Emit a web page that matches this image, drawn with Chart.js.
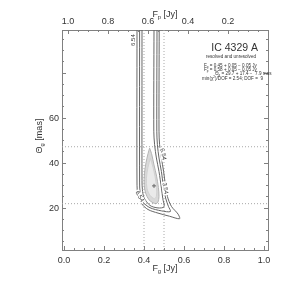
<!DOCTYPE html>
<html>
<head>
<meta charset="utf-8">
<script src="https://cdn.jsdelivr.net/npm/chart.js@4"></script>
<style>
  html, body { margin: 0; padding: 0; background: #fff; }
  #wrap { position: relative; width: 299px; height: 294px; }
  .ylab { position: absolute; font: 9px 'Liberation Sans', Arial, sans-serif; line-height: 10px; color: #333; text-align: right; width: 20px; }
</style>
</head>
<body>
<div id="wrap"><canvas id="c" width="299" height="294"></canvas></div>
<script>
const FG_TICKS = [0, 0.2, 0.4, 0.6, 0.8, 1.0];
const FP_TICKS = [1.0, 0.8, 0.6, 0.4, 0.2];
const THETA_TICKS = [20, 40, 60];

const FG_BEST = 0.45;
const FG_ERR = [0.05, 0.05];
const FP_BEST = 0.58;
const FP_ERR = [0.05, 0.05];
const TH_BEST = 29.7;
const TH_ERR = [17.4, 7.9];
const CHI2_DOF = 2.54;
const DOF = 9;

// contour traces (F_g [Jy], Theta_g [mas])
const C1_FG = [0.390, 0.390, 0.392, 0.400, 0.430, 0.470, 0.500, 0.494, 0.487, 0.475, 0.462, 0.453, 0.449, 0.450];
const C1_TH = [99, 32, 28, 24.5, 21.0, 19.9, 20.4, 24.0, 28.7, 36.1, 42.1, 48.0, 54.0, 99];
const C2_FG = [0.378, 0.378, 0.381, 0.395, 0.430, 0.487, 0.532, 0.522, 0.508, 0.497, 0.487, 0.475, 0.467, 0.464, 0.465];
const C2_TH = [99, 31, 26.5, 22.5, 20.0, 18.6, 18.3, 20.6, 24.3, 29.5, 36.1, 42.1, 48.0, 54.0, 99];
const C3_FG = [0.365, 0.365, 0.370, 0.388, 0.420, 0.470, 0.528, 0.578, 0.570, 0.537, 0.517, 0.507, 0.498, 0.487, 0.478, 0.475, 0.476];
const C3_TH = [99, 30, 25.5, 21.8, 19.2, 17.6, 16.2, 15.1, 17.2, 20.6, 25.0, 30.2, 36.1, 42.1, 48.0, 54.0, 99];
const BLOB_FG = [0.428, 0.438, 0.450, 0.463, 0.472, 0.475, 0.470, 0.460, 0.445, 0.425, 0.408, 0.401, 0.402, 0.410, 0.420, 0.428];
const BLOB_TH = [46.5, 44.0, 39.0, 34.0, 29.0, 25.0, 22.5, 21.8, 22.2, 23.5, 26.5, 30.0, 35.0, 40.0, 44.0, 46.5];
const CORE_FG = [0.432, 0.445, 0.455, 0.463, 0.462, 0.452, 0.430, 0.415, 0.412, 0.420, 0.432];
const CORE_TH = [42.0, 38.0, 34.0, 29.0, 25.0, 24.0, 25.5, 28.5, 33.0, 38.0, 42.0];

const CONTOUR_LABELS = [
  { t: '6.54', x: 0.345, y: 94.5, rot: -90 },
  { t: '6.54', x: 0.496, y: 43.8, rot: 78 },
  { t: '3.54', x: 0.506, y: 28.6, rot: 80 },
  { t: '6.54', x: 0.378, y: 25.0, rot: 60 },
];

const X_MIN = -0.01, X_MAX = 1.02;
const Y_MIN = 1.2, Y_MAX = 99;
const FONT = "'Liberation Sans', Arial, sans-serif";
const TEXT = '#333';
const AXIS = '#808080';
const LINE = '#666';
const DOT = '#a8a8a8';

function pts(xs, ys) {
  return xs.map((x, i) => ({ x, y: ys[i] }));
}

function contour(xs, ys) {
  return { data: pts(xs, ys), showLine: true, borderColor: LINE, borderWidth: 1, pointRadius: 0, tension: 0.3, fill: false, order: 1 };
}

function dotted(data) {
  return { data, showLine: true, borderColor: DOT, borderWidth: 1, borderDash: [1, 2], pointRadius: 0, fill: false, order: 3 };
}

const datasets = [
  { data: [{ x: FG_BEST, y: TH_BEST }], pointStyle: 'cross', pointRadius: 2, borderColor: '#666', borderWidth: 1, showLine: false, order: 0 },
  contour(C1_FG, C1_TH),
  contour(C2_FG, C2_TH),
  contour(C3_FG, C3_TH),
  dotted([{ x: FG_BEST - FG_ERR[1], y: Y_MIN }, { x: FG_BEST - FG_ERR[1], y: Y_MAX }]),
  dotted([{ x: FG_BEST + FG_ERR[0], y: Y_MIN }, { x: FG_BEST + FG_ERR[0], y: Y_MAX }]),
  dotted([{ x: X_MIN, y: TH_BEST + TH_ERR[0] }, { x: X_MAX, y: TH_BEST + TH_ERR[0] }]),
  dotted([{ x: X_MIN, y: TH_BEST - TH_ERR[1] }, { x: X_MAX, y: TH_BEST - TH_ERR[1] }]),
  { data: pts(CORE_FG, CORE_TH), showLine: true, borderColor: '#d2d2d2', borderWidth: 1, backgroundColor: '#eaeaea', fill: 'shape', pointRadius: 0, tension: 0.3, order: 4 },
  { data: pts(BLOB_FG, BLOB_TH), showLine: true, borderColor: '#b4b4b4', borderWidth: 1, backgroundColor: '#d9d9d9', fill: 'shape', pointRadius: 0, tension: 0.3, order: 5 },
];

function rich(ctx, parts, x, y, size, align) {
  const widths = parts.map(([t, m]) => {
    ctx.font = `${m ? size * 0.65 : size}px ${FONT}`;
    return ctx.measureText(t).width;
  });
  const w = widths.reduce((a, b) => a + b, 0);
  let cx = align === 'center' ? x - w / 2 : align === 'right' ? x - w : x;
  ctx.textAlign = 'left';
  ctx.textBaseline = 'alphabetic';
  parts.forEach(([t, m], i) => {
    ctx.font = `${m ? size * 0.65 : size}px ${FONT}`;
    const dy = m === 'sub' ? size * 0.25 : m === 'sup' ? -size * 0.4 : 0;
    ctx.fillText(t, cx, y + dy);
    cx += widths[i];
  });
}

const idlTicks = {
  id: 'idlTicks',
  afterDraw(chart) {
    const { ctx, chartArea: a, scales } = chart;
    ctx.save();
    ctx.strokeStyle = AXIS;
    ctx.lineWidth = 1;
    ctx.beginPath();
    for (let i = 0; i <= 20; i++) {
      const len = i % 4 === 0 ? 4 : 2;
      let px = Math.round(scales.x.getPixelForValue(i * 0.05)) + 0.5;
      ctx.moveTo(px, a.bottom); ctx.lineTo(px, a.bottom - len);
      px = Math.round(scales.x2.getPixelForValue(i * 0.05)) + 0.5;
      ctx.moveTo(px, a.top); ctx.lineTo(px, a.top + len);
    }
    for (let i = 1; i <= 19; i++) {
      const len = i % 4 === 0 ? 4 : 2;
      const py = Math.round(scales.y.getPixelForValue(i * 5)) + 0.5;
      ctx.moveTo(a.left, py); ctx.lineTo(a.left + len, py);
      ctx.moveTo(a.right, py); ctx.lineTo(a.right - len, py);
    }
    ctx.stroke();
    ctx.restore();

    // left tick labels as page text placed from the y scale
    const wrap = document.getElementById('wrap');
    wrap.querySelectorAll('.ylab').forEach((el) => el.remove());
    THETA_TICKS.forEach((v) => {
      const el = document.createElement('div');
      el.className = 'ylab';
      el.textContent = String(v);
      el.style.left = `${Math.round(a.left) - 23}px`;
      el.style.top = `${Math.round(scales.y.getPixelForValue(v)) - 5}px`;
      wrap.appendChild(el);
    });
  },
};

const notes = {
  id: 'notes',
  afterDraw(chart) {
    const { ctx, chartArea: a, scales } = chart;
    const mid = (a.left + a.right) / 2;
    ctx.save();
    ctx.fillStyle = TEXT;
    rich(ctx, [['F', ''], ['g', 'sub'], [' [Jy]', '']], mid, 271, 9, 'center');
    rich(ctx, [['F', ''], ['p', 'sub'], [' [Jy]', '']], mid, 17, 9, 'center');
    ctx.save();
    ctx.translate(42, 136);
    ctx.rotate(-Math.PI / 2);
    rich(ctx, [['Θ', ''], ['g', 'sub'], [' [mas]', '']], 0, 0, 9, 'center');
    ctx.restore();

    ctx.textAlign = 'right';
    ctx.font = `10.5px ${FONT}`;
    ctx.fillText('IC 4329 A', 258, 51);
    ctx.font = `4.6px ${FONT}`;
    ctx.fillText('resolved and unresolved', 256, 58);
    const f2 = (v) => v.toFixed(2);
    rich(ctx, [['F', ''], ['g', 'sub'], [` = ${f2(FG_BEST)} + ${f2(FG_ERR[0])} − ${f2(FG_ERR[1])} Jy`, '']], 204, 66.5, 4.6, 'left');
    rich(ctx, [['F', ''], ['p', 'sub'], [` = ${f2(FP_BEST)} + ${f2(FP_ERR[0])} − ${f2(FP_ERR[1])} Jy`, '']], 204, 70.8, 4.6, 'left');
    rich(ctx, [['Θ', ''], ['g', 'sub'], [` = ${TH_BEST.toFixed(1)} + ${TH_ERR[0].toFixed(1)} −  ${TH_ERR[1].toFixed(1)} mas`, '']], 215, 75.2, 4.6, 'left');
    rich(ctx, [['min(χ', ''], ['2', 'sup'], [`)/DOF = ${CHI2_DOF.toFixed(2)}; DOF =  ${DOF}`, '']], 202, 79.5, 4.6, 'left');

    ctx.font = `6px ${FONT}`;
    ctx.textAlign = 'center';
    ctx.textBaseline = 'middle';
    CONTOUR_LABELS.forEach((l) => {
      ctx.save();
      ctx.translate(scales.x.getPixelForValue(l.x), scales.y.getPixelForValue(l.y));
      ctx.rotate((l.rot * Math.PI) / 180);
      ctx.fillStyle = '#fff';
      ctx.fillRect(-7, -3, 14, 6);
      ctx.fillStyle = TEXT;
      ctx.fillText(l.t, 0, 0);
      ctx.restore();
    });
    ctx.restore();
  },
};

const tickFont = { size: 9, family: FONT };

new Chart(document.getElementById('c'), {
  type: 'scatter',
  data: { datasets },
  options: {
    responsive: false,
    animation: false,
    devicePixelRatio: 1,
    layout: { padding: 0 },
    plugins: { legend: { display: false }, tooltip: { enabled: false } },
    scales: {
      x: {
        type: 'linear', position: 'bottom', min: X_MIN, max: X_MAX,
        grid: { display: false, drawTicks: false },
        border: { display: true, color: AXIS },
        ticks: { color: TEXT, font: tickFont, padding: 5, maxRotation: 0, autoSkip: false, callback: (v) => v.toFixed(1) },
        afterBuildTicks: (s) => { s.ticks = FG_TICKS.map((v) => ({ value: v })); },
        afterFit: (s) => { s.height = 44; },
      },
      x2: {
        type: 'linear', position: 'top', min: 0, max: X_MAX - X_MIN, reverse: true,
        grid: { display: false, drawTicks: false },
        border: { display: true, color: AXIS },
        ticks: { color: TEXT, font: tickFont, padding: 3, maxRotation: 0, autoSkip: false, callback: (v) => v.toFixed(1) },
        afterBuildTicks: (s) => { s.ticks = FP_TICKS.map((v) => ({ value: v })); },
        afterFit: (s) => { s.height = 30; },
      },
      y: {
        type: 'linear', position: 'left', min: Y_MIN, max: Y_MAX,
        grid: { display: false, drawTicks: false },
        border: { display: true, color: AXIS },
        ticks: { display: false },
        afterFit: (s) => { s.width = 62; },
      },
      y2: {
        type: 'linear', position: 'right', min: Y_MIN, max: Y_MAX,
        grid: { display: false, drawTicks: false },
        border: { display: true, color: AXIS },
        ticks: { display: false },
        afterFit: (s) => { s.width = 31; },
      },
    },
  },
  plugins: [idlTicks, notes],
});
</script>
</body>
</html>
